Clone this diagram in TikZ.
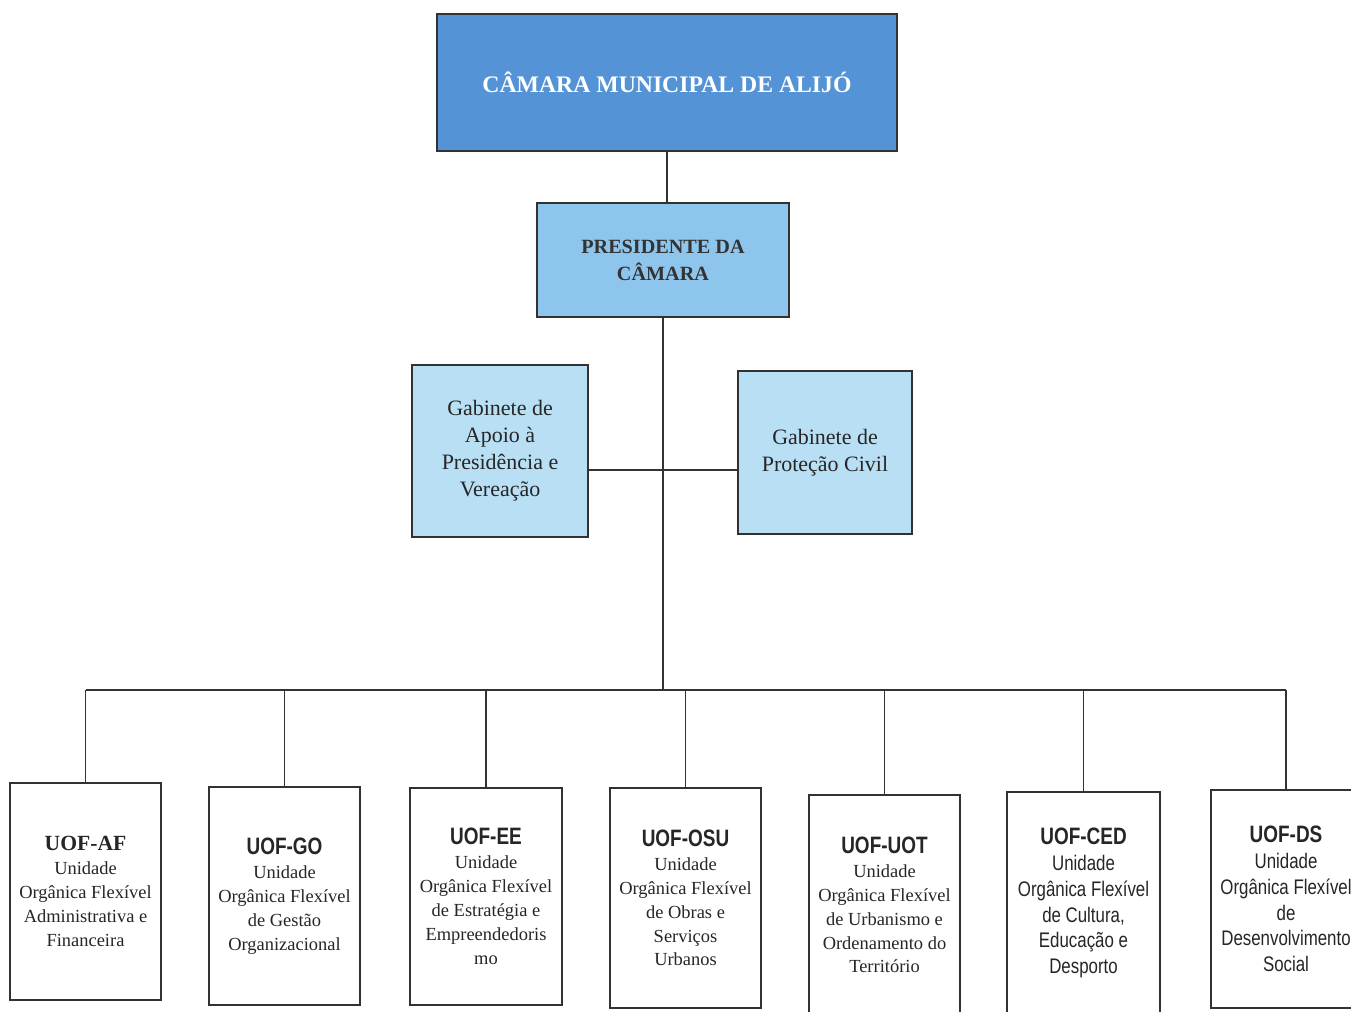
\documentclass[tikz,border=0pt]{standalone}
\usepackage{fontspec}
\setmainfont{Liberation Serif}
\newfontfamily\narrowsans[FakeStretch=0.8]{Liberation Sans}

\definecolor{camarablue}{RGB}{84,148,214}
\definecolor{presblue}{RGB}{142,197,236}
\definecolor{gabblue}{RGB}{185,223,245}
\definecolor{boxline}{RGB}{50,50,50}

\begin{document}
\begin{tikzpicture}[x=0.02cm, y=-0.02cm,
    every node/.style={draw=boxline, line width=1.1pt, align=center, inner sep=0pt},
    headbox/.style={fill=camarablue, text=white, font=\fontsize{13.5}{16}\selectfont\bfseries},
    presbox/.style={fill=presblue, text=black!80, font=\fontsize{11.5}{15.3}\selectfont\bfseries},
    gabbox/.style={fill=gabblue, text=black!85, font=\fontsize{12.5}{15.3}\selectfont},
    unitbox/.style={fill=white, text=black!85, minimum width=3.02cm, font=\fontsize{10.5}{13.6}\selectfont},
    sansunit/.style={unitbox, font=\narrowsans\fontsize{12}{14.7}\selectfont},
    link/.style={draw=boxline, line width=1.1pt},
    ]
  \useasboundingbox (0,0) rectangle (1351,1011);
  \clip (0,0) rectangle (1351,1011);
  \fill[white] (0,0) rectangle (1351,1011);

  % top of the chart
  \node[headbox, minimum width=9.2cm, minimum height=2.74cm] (camara) at (667,82.5)
    {CÂMARA MUNICIPAL DE ALIJÓ};
  \node[presbox, minimum width=5.04cm, minimum height=2.28cm] (pres) at (663,260)
    {PRESIDENTE DA\\CÂMARA};

  % gabinetes
  \node[gabbox, minimum width=3.52cm, minimum height=3.44cm] (gabap) at (500,451)
    {Gabinete de\\Apoio à\\Presidência e\\Vereação};
  \node[gabbox, minimum width=3.48cm, minimum height=3.26cm] (gabpc) at (825,452.5)
    {Gabinete de\\Proteção Civil};

  % unidades organicas flexiveis
  \node[unitbox, minimum height=4.34cm] (uofaf) at (85.5,891.5)
    {{\fontsize{12.3}{15}\selectfont\bfseries UOF-AF}\\Unidade\\Orgânica Flexível\\Administrativa e\\Financeira};
  \node[unitbox, minimum height=4.36cm] (uofgo) at (284.5,896)
    {{\narrowsans\fontsize{13.5}{15}\selectfont\bfseries UOF-GO}\\Unidade\\Orgânica Flexível\\de Gestão\\Organizacional};
  \node[unitbox, minimum width=3.04cm, minimum height=4.34cm] (uofee) at (486,896.5)
    {{\narrowsans\fontsize{13.5}{15}\selectfont\bfseries UOF-EE}\\Unidade\\Orgânica Flexível\\de Estratégia e\\Empreendedoris\\mo};
  \node[unitbox, minimum height=4.4cm] (uofosu) at (685.5,898)
    {{\narrowsans\fontsize{13.5}{15}\selectfont\bfseries UOF-OSU}\\Unidade\\Orgânica Flexível\\de Obras e\\Serviços\\Urbanos};
  \node[unitbox, minimum height=4.4cm] (uofuot) at (884.5,905)
    {{\narrowsans\fontsize{13.5}{15}\selectfont\bfseries UOF-UOT}\\Unidade\\Orgânica Flexível\\de Urbanismo e\\Ordenamento do\\Território};
  \node[sansunit, minimum width=3.06cm, minimum height=4.44cm] (uofced) at (1083.5,903)
    {{\fontsize{13.5}{15}\selectfont\bfseries UOF-CED}\\Unidade\\Orgânica Flexível\\de Cultura,\\Educação e\\Desporto};
  \node[sansunit, minimum width=3.0cm, minimum height=4.36cm] (uofds) at (1286,899)
    {{\fontsize{13.5}{15}\selectfont\bfseries UOF-DS}\\Unidade\\Orgânica Flexível\\de\\Desenvolvimento\\Social};

  % connectors
  \coordinate (junc) at (662,470);
  \coordinate (bus) at (662,690);
  \draw[link] (camara.south) -- (camara.south |- pres.north);
  \draw[link] (pres.south) -- (pres.south |- bus);
  \draw[link] (gabap.east |- junc) -- (gabpc.west |- junc);
  \draw[link] (uofaf.north |- bus) -- (uofds.north |- bus);
  \foreach \u in {uofaf,uofgo,uofee,uofosu,uofuot,uofced,uofds}
    \draw[link] (\u.north) -- (\u.north |- bus);
\end{tikzpicture}
\end{document}
